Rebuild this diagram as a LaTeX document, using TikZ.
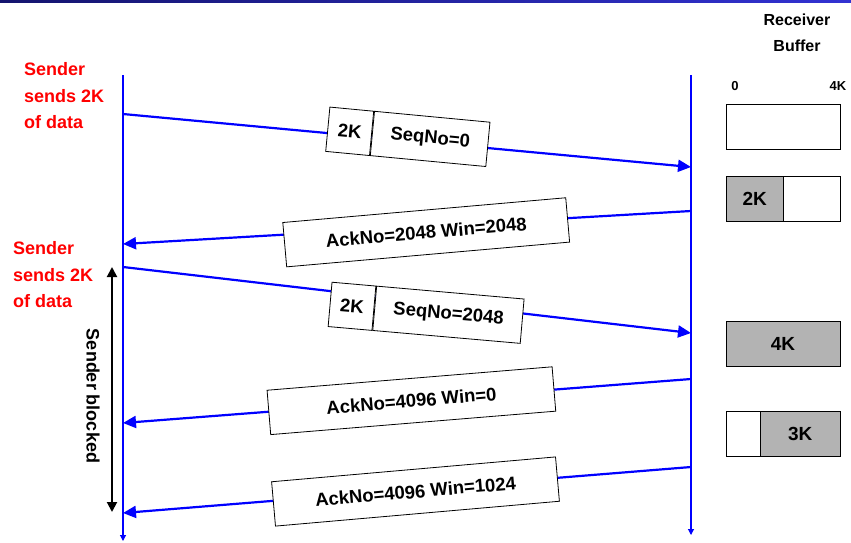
\documentclass[tikz,border=0pt]{standalone}
\usepackage{fontspec}
\setmainfont{Liberation Sans}
\usetikzlibrary{arrows.meta}
\definecolor{navy}{RGB}{20,20,110}
\definecolor{barblue}{RGB}{50,50,210}
\definecolor{lineblue}{RGB}{0,0,255}
\definecolor{bufgray}{RGB}{179,179,179}
\begin{document}
\begin{tikzpicture}[x=1pt,y=-1pt,
  lifeline/.style={draw=lineblue, line width=1.1pt, -{Triangle[length=6pt,width=6pt]}},
  msgarrow/.style={draw=lineblue, line width=2.2pt, -{Triangle[length=13pt,width=12pt]}},
  blockarrow/.style={draw=black, line width=2pt, {Triangle[length=10pt,width=10pt]}-{Triangle[length=10pt,width=10pt]}},
  msgbox/.style={draw=black, fill=white, line width=0.8pt, minimum height=44.5pt, inner sep=0pt, font=\fontsize{18.5}{20}\selectfont\bfseries},
  redtext/.style={text=red, align=left, font=\fontsize{18}{26.5}\selectfont\bfseries, inner sep=0pt, anchor=west},
  bufbox/.style={draw=black, line width=0.8pt, minimum height=45pt, inner sep=0pt, font=\fontsize{19}{21}\selectfont\bfseries},
  smalllabel/.style={inner sep=0pt, font=\fontsize{13}{15}\selectfont\bfseries},
  headlabel/.style={inner sep=0pt, align=center, font=\fontsize{16}{26}\selectfont\bfseries},
  sidelabel/.style={inner sep=0pt, font=\fontsize{18}{20}\selectfont\bfseries}
]
\useasboundingbox (0,0) rectangle (851,542);
\shade[left color=navy, right color=barblue] (0,0) rectangle (851,2);

% lifelines
\coordinate (Stop) at (123,75);
\coordinate (Sbot) at (123,541);
\coordinate (Rtop) at (691,75);
\coordinate (Rbot) at (691,535);
\draw[lifeline] (Stop) -- (Sbot);
\draw[lifeline] (Rtop) -- (Rbot);

% message end points
\coordinate (s1) at (123,114);
\coordinate (r1) at (691,167);
\coordinate (r2) at (691,211);
\coordinate (s2) at (123,244);
\coordinate (s3) at (123,267);
\coordinate (r3) at (691,333);
\coordinate (r4) at (691,379);
\coordinate (s4) at (123,423);
\coordinate (r5) at (691,467);
\coordinate (s5) at (123,513);

\draw[msgarrow] (s1) -- (r1);
\draw[msgarrow] (r2) -- (s2);
\draw[msgarrow] (s3) -- (r3);
\draw[msgarrow] (r4) -- (s4);
\draw[msgarrow] (r5) -- (s5);

% message boxes
\node[msgbox, rotate=-5.4, minimum width=44pt] (k1) at (349.7,131.3) {2K};
\node[msgbox, rotate=-5.4, minimum width=116pt, anchor=west] (q1) at (k1.east) {SeqNo=0};
\node[msgbox, rotate=5, minimum width=284pt] (a2) at (426.2,232.3) {AckNo=2048 Win=2048};
\node[msgbox, rotate=-5, minimum width=44pt] (k3) at (352,306.3) {2K};
\node[msgbox, rotate=-5, minimum width=148pt, anchor=west] (q3) at (k3.east) {SeqNo=2048};
\node[msgbox, rotate=4.7, minimum width=286pt] (a4) at (411.4,400.7) {AckNo=4096 Win=0};
\node[msgbox, rotate=5, minimum width=285pt] (a5) at (415.5,491.5) {AckNo=4096 Win=1024};

% sender blocked
\coordinate (bt) at (112,267);
\coordinate (bb) at (112,512);
\draw[blockarrow] (bt) -- (bb);
\node[sidelabel, rotate=-90] (sb) at (93,396) {Sender blocked};

% red labels
\node[redtext] (sl1) at (24,96) {Sender\\sends 2K\\of data};
\node[redtext] (sl2) at (13,275) {Sender\\sends 2K\\of data};

% receiver buffer
\node[headlabel] (rb) at (797,33) {Receiver\\Buffer};
\node[smalllabel] (z0) at (735,86) {0};
\node[smalllabel] (z4) at (838,86) {4K};

\node[bufbox, fill=white, minimum width=114pt] (bf1) at (783,126.7) {};
\node[bufbox, fill=bufgray, minimum width=57.3pt] (bf2a) at (754.7,199.2) {2K};
\node[bufbox, fill=white, minimum width=56.7pt] (bf2b) at (811.7,199.2) {};
\node[bufbox, fill=bufgray, minimum width=114pt] (bf3) at (783,344.2) {4K};
\node[bufbox, fill=white, minimum width=34.7pt] (bf4a) at (743.3,434.2) {};
\node[bufbox, fill=bufgray, minimum width=79.3pt] (bf4b) at (800.3,434.2) {3K};
\end{tikzpicture}
\end{document}
